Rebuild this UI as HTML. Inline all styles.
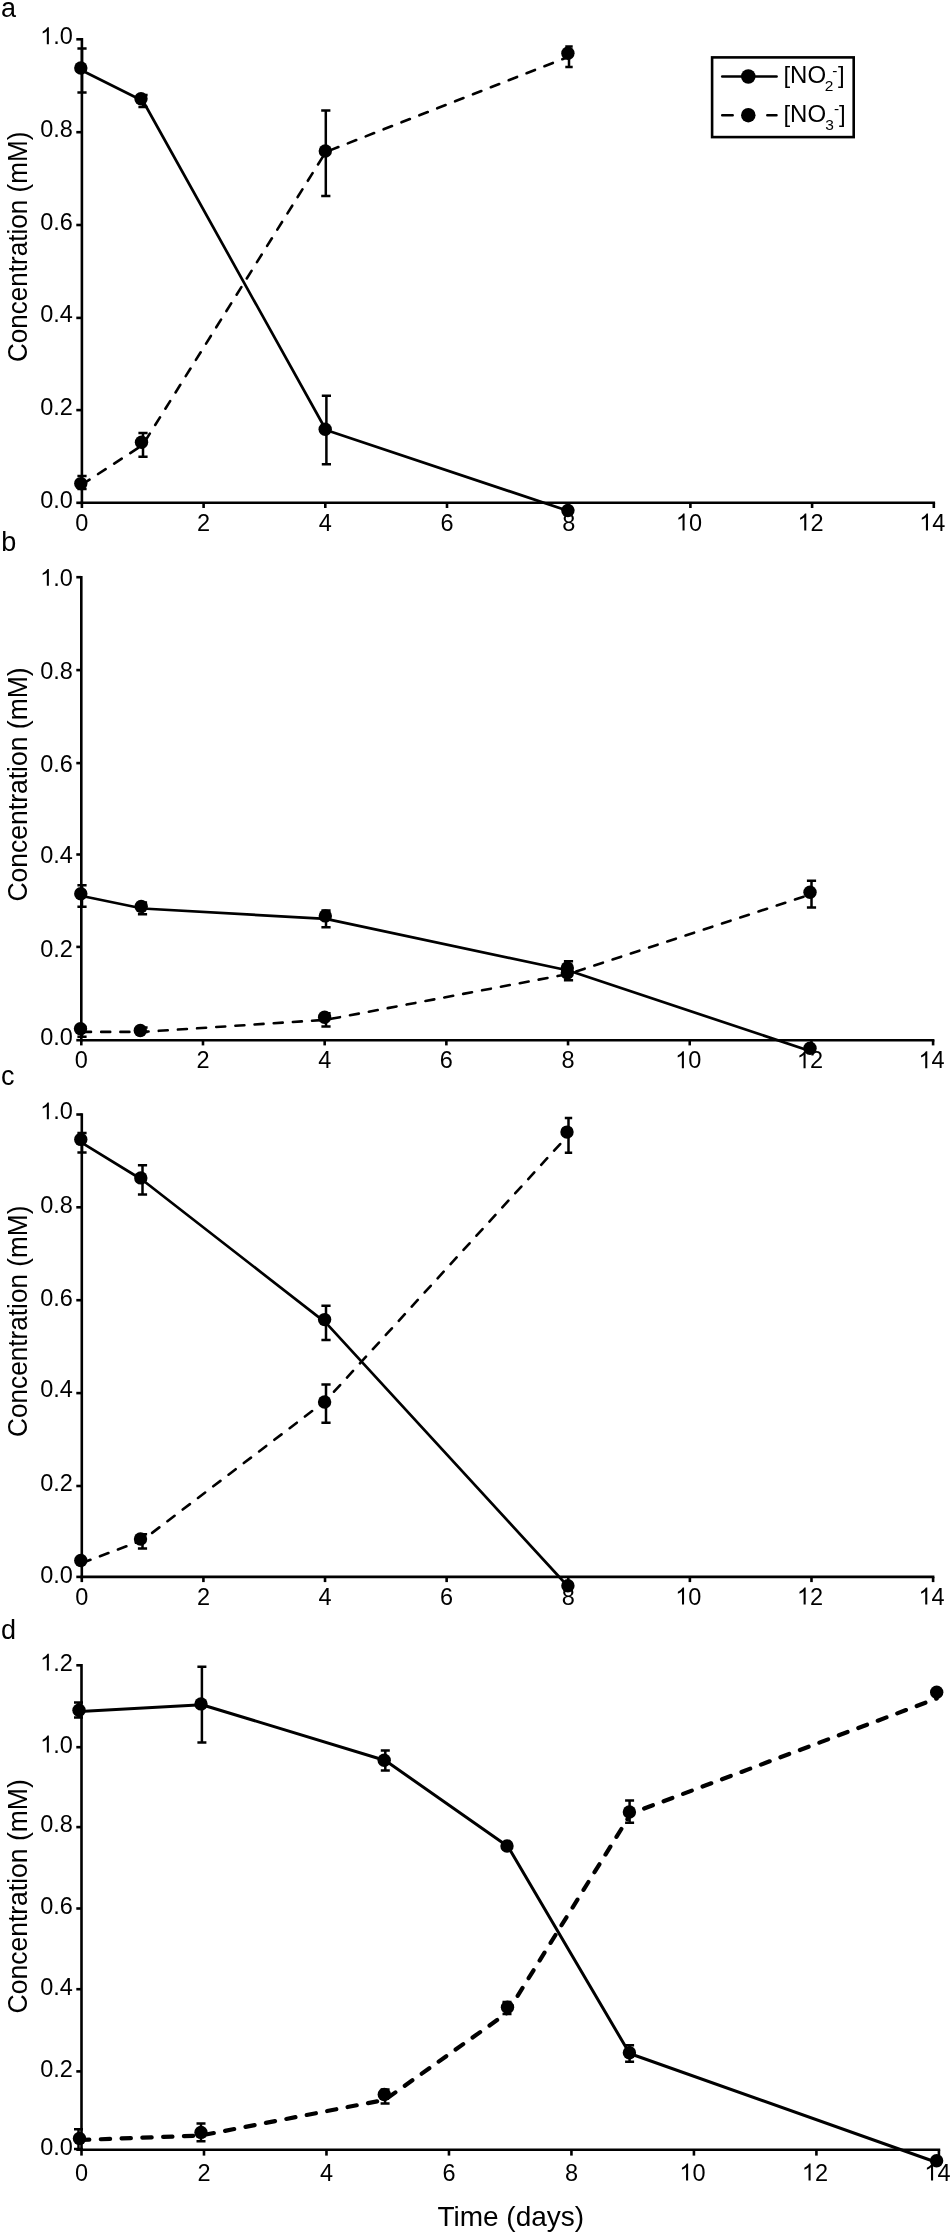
<!DOCTYPE html>
<html><head><meta charset="utf-8"><title>Nitrite and nitrate concentration over time</title>
<style>
html,body{margin:0;padding:0;background:#fff;}
svg{display:block;}
text{-webkit-font-smoothing:antialiased;}
text{font-family:"Liberation Sans", sans-serif;fill:#000;}
.t{font-size:23.5px;}
.L{font-size:27px;}
</style></head><body>
<svg style="will-change:transform" width="950" height="2235" viewBox="0 0 950 2235">
<rect width="950" height="2235" fill="#fff"/>
<path d="M81.9 38V504.1" stroke="#000" stroke-width="2.6" fill="none"/>
<path d="M80.6 502.8H935.1" stroke="#000" stroke-width="2.6" fill="none"/>
<path d="M76.3 39.3H81.9" stroke="#000" stroke-width="2.6"/>
<text x="40.13" y="44.25" font-size="23.5"> .0</text><path transform="translate(40.13 44.25) scale(0.011475 -0.011475)" d="M763 0H583V1147Q518 1085 412.5 1023Q307 961 223 930V1104Q374 1175 487 1276Q600 1377 647 1472H763Z"/>
<path d="M76.3 132.2H81.9" stroke="#000" stroke-width="2.6"/>
<text x="40.13" y="137.1" font-size="23.5">0.8</text>
<path d="M76.3 225H81.9" stroke="#000" stroke-width="2.6"/>
<text x="40.13" y="230.4" font-size="23.5">0.6</text>
<path d="M76.3 317.9H81.9" stroke="#000" stroke-width="2.6"/>
<text x="40.13" y="321.9" font-size="23.5">0.4</text>
<path d="M76.3 410.1H81.9" stroke="#000" stroke-width="2.6"/>
<text x="40.13" y="414.8" font-size="23.5">0.2</text>
<path d="M76.3 502.8H81.9" stroke="#000" stroke-width="2.6"/>
<text x="40.13" y="507.75" font-size="23.5">0.0</text>
<path d="M81.9 502.8V508" stroke="#000" stroke-width="2.6"/>
<text x="75.37" y="530.5" font-size="23.5">0</text>
<path d="M203.6 502.8V508" stroke="#000" stroke-width="2.6"/>
<text x="197.07" y="530.5" font-size="23.5">2</text>
<path d="M325.3 502.8V508" stroke="#000" stroke-width="2.6"/>
<text x="318.77" y="530.5" font-size="23.5">4</text>
<path d="M447 502.8V508" stroke="#000" stroke-width="2.6"/>
<text x="440.47" y="530.5" font-size="23.5">6</text>
<path d="M568.7 502.8V508" stroke="#000" stroke-width="2.6"/>
<text x="562.17" y="530.5" font-size="23.5">8</text>
<path d="M690.4 502.8V508" stroke="#000" stroke-width="2.6"/>
<text x="675.83" y="530.5" font-size="23.5"> 0</text><path transform="translate(675.83 530.5) scale(0.011475 -0.011475)" d="M763 0H583V1147Q518 1085 412.5 1023Q307 961 223 930V1104Q374 1175 487 1276Q600 1377 647 1472H763Z"/>
<path d="M812.1 502.8V508" stroke="#000" stroke-width="2.6"/>
<text x="797.53" y="530.5" font-size="23.5"> 2</text><path transform="translate(797.53 530.5) scale(0.011475 -0.011475)" d="M763 0H583V1147Q518 1085 412.5 1023Q307 961 223 930V1104Q374 1175 487 1276Q600 1377 647 1472H763Z"/>
<path d="M933.8 502.8V508" stroke="#000" stroke-width="2.6"/>
<text x="919.23" y="530.5" font-size="23.5"> 4</text><path transform="translate(919.23 530.5) scale(0.011475 -0.011475)" d="M763 0H583V1147Q518 1085 412.5 1023Q307 961 223 930V1104Q374 1175 487 1276Q600 1377 647 1472H763Z"/>
<path d="M82 484.5 L142.7 445 L325.8 152 L569 56.6" fill="none" stroke="#000" stroke-width="2.6" stroke-linecap="round" stroke-linejoin="round" stroke-dasharray="9.0 10.2"/>
<path d="M82 476V489M77.4 476H86.6M77.4 489H86.6" stroke="#000" stroke-width="2.5" fill="none"/>
<path d="M143 433V456.7M138.4 433H147.6M138.4 456.7H147.6" stroke="#000" stroke-width="2.5" fill="none"/>
<path d="M325.8 110.6V195.9M321.2 110.6H330.4M321.2 195.9H330.4" stroke="#000" stroke-width="2.5" fill="none"/>
<path d="M569 46.6V67M565.3 46.6H572.7M565.3 67H572.7" stroke="#000" stroke-width="2.5" fill="none"/>
<circle cx="80.8" cy="483.6" r="6.7"/>
<circle cx="141.5" cy="442.2" r="6.7"/>
<circle cx="325.3" cy="151" r="6.7"/>
<circle cx="567.9" cy="53.2" r="6.7"/>
<path d="M82 70.5 L143 101 L326 430 L568.5 511" fill="none" stroke="#000" stroke-width="2.7" stroke-linejoin="round"/>
<path d="M82 48.4V92.6M77.4 48.4H86.6M77.4 92.6H86.6" stroke="#000" stroke-width="2.5" fill="none"/>
<path d="M143 95V107M138.4 95H147.6M138.4 107H147.6" stroke="#000" stroke-width="2.5" fill="none"/>
<path d="M326.4 395.8V464.3M321.8 395.8H331M321.8 464.3H331" stroke="#000" stroke-width="2.5" fill="none"/>
<circle cx="80.8" cy="68" r="6.7"/>
<circle cx="141" cy="98.7" r="6.7"/>
<circle cx="325.2" cy="429.2" r="6.7"/>
<circle cx="567.9" cy="510.5" r="6.7"/>
<path d="M81.3 575.9V1041.5" stroke="#000" stroke-width="2.6" fill="none"/>
<path d="M80 1040.2H934.4" stroke="#000" stroke-width="2.6" fill="none"/>
<path d="M76.3 577.2H81.3" stroke="#000" stroke-width="2.6"/>
<text x="40.13" y="585.8" font-size="23.5"> .0</text><path transform="translate(40.13 585.8) scale(0.011475 -0.011475)" d="M763 0H583V1147Q518 1085 412.5 1023Q307 961 223 930V1104Q374 1175 487 1276Q600 1377 647 1472H763Z"/>
<path d="M76.3 670.1H81.3" stroke="#000" stroke-width="2.6"/>
<text x="40.13" y="678.9" font-size="23.5">0.8</text>
<path d="M76.3 763.1H81.3" stroke="#000" stroke-width="2.6"/>
<text x="40.13" y="772" font-size="23.5">0.6</text>
<path d="M76.3 854.5H81.3" stroke="#000" stroke-width="2.6"/>
<text x="40.13" y="863.3" font-size="23.5">0.4</text>
<path d="M76.3 946.9H81.3" stroke="#000" stroke-width="2.6"/>
<text x="40.13" y="956.8" font-size="23.5">0.2</text>
<path d="M76.3 1040.2H81.3" stroke="#000" stroke-width="2.6"/>
<text x="40.13" y="1045.2" font-size="23.5">0.0</text>
<path d="M81.3 1040.2V1045.4" stroke="#000" stroke-width="2.6"/>
<text x="74.77" y="1068.2" font-size="23.5">0</text>
<path d="M202.99 1040.2V1045.4" stroke="#000" stroke-width="2.6"/>
<text x="196.45" y="1068.2" font-size="23.5">2</text>
<path d="M324.67 1040.2V1045.4" stroke="#000" stroke-width="2.6"/>
<text x="318.14" y="1068.2" font-size="23.5">4</text>
<path d="M446.36 1040.2V1045.4" stroke="#000" stroke-width="2.6"/>
<text x="439.82" y="1068.2" font-size="23.5">6</text>
<path d="M568.04 1040.2V1045.4" stroke="#000" stroke-width="2.6"/>
<text x="561.51" y="1068.2" font-size="23.5">8</text>
<path d="M689.73 1040.2V1045.4" stroke="#000" stroke-width="2.6"/>
<text x="675.16" y="1068.2" font-size="23.5"> 0</text><path transform="translate(675.16 1068.2) scale(0.011475 -0.011475)" d="M763 0H583V1147Q518 1085 412.5 1023Q307 961 223 930V1104Q374 1175 487 1276Q600 1377 647 1472H763Z"/>
<path d="M811.41 1040.2V1045.4" stroke="#000" stroke-width="2.6"/>
<text x="796.84" y="1068.2" font-size="23.5"> 2</text><path transform="translate(796.84 1068.2) scale(0.011475 -0.011475)" d="M763 0H583V1147Q518 1085 412.5 1023Q307 961 223 930V1104Q374 1175 487 1276Q600 1377 647 1472H763Z"/>
<path d="M933.1 1040.2V1045.4" stroke="#000" stroke-width="2.6"/>
<text x="918.53" y="1068.2" font-size="23.5"> 4</text><path transform="translate(918.53 1068.2) scale(0.011475 -0.011475)" d="M763 0H583V1147Q518 1085 412.5 1023Q307 961 223 930V1104Q374 1175 487 1276Q600 1377 647 1472H763Z"/>
<path d="M82 1031.9 L142.5 1031.9 L326 1019.8 L568.5 974 L811.5 894.1" fill="none" stroke="#000" stroke-width="2.6" stroke-linecap="round" stroke-linejoin="round" stroke-dasharray="9.0 10.2"/>
<path d="M82 1027V1036.7M77.4 1027H86.6M77.4 1036.7H86.6" stroke="#000" stroke-width="2.5" fill="none"/>
<path d="M143 1027.5V1032M138.4 1027.5H147.6M138.4 1032H147.6" stroke="#000" stroke-width="2.5" fill="none"/>
<path d="M326 1013.2V1026.4M321.4 1013.2H330.6M321.4 1026.4H330.6" stroke="#000" stroke-width="2.5" fill="none"/>
<path d="M568.5 961.3V980.2M563.9 961.3H573.1M563.9 980.2H573.1" stroke="#000" stroke-width="2.5" fill="none"/>
<path d="M811.5 880.8V907.4M806.9 880.8H816.1M806.9 907.4H816.1" stroke="#000" stroke-width="2.5" fill="none"/>
<circle cx="80.5" cy="1028.7" r="6.7"/>
<circle cx="140.3" cy="1030.5" r="6.7"/>
<circle cx="324.6" cy="1017.3" r="6.7"/>
<circle cx="567.3" cy="973" r="6.7"/>
<circle cx="810" cy="892.2" r="6.7"/>
<path d="M82 896 L142.5 908.5 L326 918.9 L568.5 970.5 L811.5 1051.5" fill="none" stroke="#000" stroke-width="2.7" stroke-linejoin="round"/>
<path d="M82 885.3V906.7M77.4 885.3H86.6M77.4 906.7H86.6" stroke="#000" stroke-width="2.5" fill="none"/>
<path d="M142.5 902.6V914.3M137.9 902.6H147.1M137.9 914.3H147.1" stroke="#000" stroke-width="2.5" fill="none"/>
<path d="M326 910.5V927.3M321.4 910.5H330.6M321.4 927.3H330.6" stroke="#000" stroke-width="2.5" fill="none"/>
<circle cx="80.8" cy="893.8" r="6.7"/>
<circle cx="141.2" cy="906.4" r="6.7"/>
<circle cx="325.3" cy="915.9" r="6.7"/>
<circle cx="567.3" cy="968" r="6.7"/>
<circle cx="810" cy="1048.3" r="6.7"/>
<path d="M81.8 1113.2V1578.2" stroke="#000" stroke-width="2.6" fill="none"/>
<path d="M80.5 1576.9H934.4" stroke="#000" stroke-width="2.6" fill="none"/>
<path d="M76.3 1114.5H81.8" stroke="#000" stroke-width="2.6"/>
<text x="40.13" y="1119.3" font-size="23.5"> .0</text><path transform="translate(40.13 1119.3) scale(0.011475 -0.011475)" d="M763 0H583V1147Q518 1085 412.5 1023Q307 961 223 930V1104Q374 1175 487 1276Q600 1377 647 1472H763Z"/>
<path d="M76.3 1207.3H81.8" stroke="#000" stroke-width="2.6"/>
<text x="40.13" y="1212.5" font-size="23.5">0.8</text>
<path d="M76.3 1300.2H81.8" stroke="#000" stroke-width="2.6"/>
<text x="40.13" y="1305.8" font-size="23.5">0.6</text>
<path d="M76.3 1393.1H81.8" stroke="#000" stroke-width="2.6"/>
<text x="40.13" y="1397" font-size="23.5">0.4</text>
<path d="M76.3 1486H81.8" stroke="#000" stroke-width="2.6"/>
<text x="40.13" y="1490.6" font-size="23.5">0.2</text>
<path d="M76.3 1576.9H81.8" stroke="#000" stroke-width="2.6"/>
<text x="40.13" y="1582.6" font-size="23.5">0.0</text>
<path d="M81.8 1576.9V1582.1" stroke="#000" stroke-width="2.6"/>
<text x="75.27" y="1604.5" font-size="23.5">0</text>
<path d="M203.41 1576.9V1582.1" stroke="#000" stroke-width="2.6"/>
<text x="196.88" y="1604.5" font-size="23.5">2</text>
<path d="M325.03 1576.9V1582.1" stroke="#000" stroke-width="2.6"/>
<text x="318.49" y="1604.5" font-size="23.5">4</text>
<path d="M446.64 1576.9V1582.1" stroke="#000" stroke-width="2.6"/>
<text x="440.11" y="1604.5" font-size="23.5">6</text>
<path d="M568.26 1576.9V1582.1" stroke="#000" stroke-width="2.6"/>
<text x="561.72" y="1604.5" font-size="23.5">8</text>
<path d="M689.87 1576.9V1582.1" stroke="#000" stroke-width="2.6"/>
<text x="675.3" y="1604.5" font-size="23.5"> 0</text><path transform="translate(675.3 1604.5) scale(0.011475 -0.011475)" d="M763 0H583V1147Q518 1085 412.5 1023Q307 961 223 930V1104Q374 1175 487 1276Q600 1377 647 1472H763Z"/>
<path d="M811.49 1576.9V1582.1" stroke="#000" stroke-width="2.6"/>
<text x="796.92" y="1604.5" font-size="23.5"> 2</text><path transform="translate(796.92 1604.5) scale(0.011475 -0.011475)" d="M763 0H583V1147Q518 1085 412.5 1023Q307 961 223 930V1104Q374 1175 487 1276Q600 1377 647 1472H763Z"/>
<path d="M933.1 1576.9V1582.1" stroke="#000" stroke-width="2.6"/>
<text x="918.53" y="1604.5" font-size="23.5"> 4</text><path transform="translate(918.53 1604.5) scale(0.011475 -0.011475)" d="M763 0H583V1147Q518 1085 412.5 1023Q307 961 223 930V1104Q374 1175 487 1276Q600 1377 647 1472H763Z"/>
<path d="M82 1563 L142.5 1540.2 L326 1400.5 L568.5 1134.9" fill="none" stroke="#000" stroke-width="2.6" stroke-linecap="round" stroke-linejoin="round" stroke-dasharray="9.0 10.2"/>
<path d="M142.5 1534.3V1548.5M137.9 1534.3H147.1M137.9 1548.5H147.1" stroke="#000" stroke-width="2.5" fill="none"/>
<path d="M326 1384.4V1422.7M321.4 1384.4H330.6M321.4 1422.7H330.6" stroke="#000" stroke-width="2.5" fill="none"/>
<path d="M568.5 1118.1V1152.7M564.8 1118.1H572.2M564.8 1152.7H572.2" stroke="#000" stroke-width="2.5" fill="none"/>
<circle cx="80.8" cy="1560.5" r="6.7"/>
<circle cx="140.5" cy="1539" r="6.7"/>
<circle cx="324.6" cy="1402" r="6.7"/>
<circle cx="567" cy="1132.1" r="6.7"/>
<path d="M82 1142.8 L142.5 1180 L326 1322.9 L568.5 1587" fill="none" stroke="#000" stroke-width="2.7" stroke-linejoin="round"/>
<path d="M82 1133V1152.6M77.4 1133H86.6M77.4 1152.6H86.6" stroke="#000" stroke-width="2.5" fill="none"/>
<path d="M142.5 1165.3V1194.6M137.9 1165.3H147.1M137.9 1194.6H147.1" stroke="#000" stroke-width="2.5" fill="none"/>
<path d="M326 1305.7V1340.1M321.4 1305.7H330.6M321.4 1340.1H330.6" stroke="#000" stroke-width="2.5" fill="none"/>
<circle cx="80.8" cy="1139.4" r="6.7"/>
<circle cx="140.8" cy="1177.9" r="6.7"/>
<circle cx="324.6" cy="1319.6" r="6.7"/>
<circle cx="567.9" cy="1585.8" r="6.7"/>
<path d="M81.5 1664V2151" stroke="#000" stroke-width="2.6" fill="none"/>
<path d="M80.2 2149.7H940.2" stroke="#000" stroke-width="2.6" fill="none"/>
<path d="M76.3 1665.3H81.5" stroke="#000" stroke-width="2.6"/>
<text x="40.13" y="1670.6" font-size="23.5"> .2</text><path transform="translate(40.13 1670.6) scale(0.011475 -0.011475)" d="M763 0H583V1147Q518 1085 412.5 1023Q307 961 223 930V1104Q374 1175 487 1276Q600 1377 647 1472H763Z"/>
<path d="M76.3 1747.2H81.5" stroke="#000" stroke-width="2.6"/>
<text x="40.13" y="1752.5" font-size="23.5"> .0</text><path transform="translate(40.13 1752.5) scale(0.011475 -0.011475)" d="M763 0H583V1147Q518 1085 412.5 1023Q307 961 223 930V1104Q374 1175 487 1276Q600 1377 647 1472H763Z"/>
<path d="M76.3 1827.1H81.5" stroke="#000" stroke-width="2.6"/>
<text x="40.13" y="1832.3" font-size="23.5">0.8</text>
<path d="M76.3 1908.5H81.5" stroke="#000" stroke-width="2.6"/>
<text x="40.13" y="1913.8" font-size="23.5">0.6</text>
<path d="M76.3 1989.2H81.5" stroke="#000" stroke-width="2.6"/>
<text x="40.13" y="1995.2" font-size="23.5">0.4</text>
<path d="M76.3 2071.4H81.5" stroke="#000" stroke-width="2.6"/>
<text x="40.13" y="2077.4" font-size="23.5">0.2</text>
<path d="M76.3 2149.7H81.5" stroke="#000" stroke-width="2.6"/>
<text x="40.13" y="2155.3" font-size="23.5">0.0</text>
<path d="M81.5 2149.7V2155.6" stroke="#000" stroke-width="2.6"/>
<text x="74.97" y="2180.5" font-size="23.5">0</text>
<path d="M203.99 2149.7V2155.6" stroke="#000" stroke-width="2.6"/>
<text x="197.45" y="2180.5" font-size="23.5">2</text>
<path d="M326.47 2149.7V2155.6" stroke="#000" stroke-width="2.6"/>
<text x="319.94" y="2180.5" font-size="23.5">4</text>
<path d="M448.96 2149.7V2155.6" stroke="#000" stroke-width="2.6"/>
<text x="442.42" y="2180.5" font-size="23.5">6</text>
<path d="M571.44 2149.7V2155.6" stroke="#000" stroke-width="2.6"/>
<text x="564.91" y="2180.5" font-size="23.5">8</text>
<path d="M693.93 2149.7V2155.6" stroke="#000" stroke-width="2.6"/>
<text x="679.36" y="2180.5" font-size="23.5"> 0</text><path transform="translate(679.36 2180.5) scale(0.011475 -0.011475)" d="M763 0H583V1147Q518 1085 412.5 1023Q307 961 223 930V1104Q374 1175 487 1276Q600 1377 647 1472H763Z"/>
<path d="M816.41 2149.7V2155.6" stroke="#000" stroke-width="2.6"/>
<text x="801.84" y="2180.5" font-size="23.5"> 2</text><path transform="translate(801.84 2180.5) scale(0.011475 -0.011475)" d="M763 0H583V1147Q518 1085 412.5 1023Q307 961 223 930V1104Q374 1175 487 1276Q600 1377 647 1472H763Z"/>
<path d="M938.9 2149.7V2155.6" stroke="#000" stroke-width="2.6"/>
<text x="924.33" y="2180.5" font-size="23.5"> 4</text><path transform="translate(924.33 2180.5) scale(0.011475 -0.011475)" d="M763 0H583V1147Q518 1085 412.5 1023Q307 961 223 930V1104Q374 1175 487 1276Q600 1377 647 1472H763Z"/>
<path d="M80 2140 L201 2135.5 L385 2099.8 L507 2013 L631 1813.5 L936.7 1698.5" fill="none" stroke="#000" stroke-width="4.2" stroke-linecap="round" stroke-linejoin="round" stroke-dasharray="9.3 11.5"/>
<path d="M78.5 2129.3V2149M74 2129.3H83M74 2149H83" stroke="#000" stroke-width="2.5" fill="none"/>
<path d="M201 2123.4V2141.3M196.5 2123.4H205.5M196.5 2141.3H205.5" stroke="#000" stroke-width="2.5" fill="none"/>
<path d="M385.1 2089.6V2103.4M380.6 2089.6H389.6M380.6 2103.4H389.6" stroke="#000" stroke-width="2.5" fill="none"/>
<path d="M507 2002V2014.1M502.5 2002H511.5M502.5 2014.1H511.5" stroke="#000" stroke-width="2.5" fill="none"/>
<path d="M629.6 1800.5V1822.7M625.1 1800.5H634.1M625.1 1822.7H634.1" stroke="#000" stroke-width="2.5" fill="none"/>
<circle cx="79.5" cy="2138.4" r="6.7"/>
<circle cx="201" cy="2132.4" r="6.7"/>
<circle cx="384.3" cy="2094.5" r="6.7"/>
<circle cx="507.5" cy="2007.2" r="6.7"/>
<circle cx="629.4" cy="1811.9" r="6.7"/>
<circle cx="936.7" cy="1692.3" r="6.7"/>
<path d="M80 1711.6 L201.9 1704.7 L385.3 1760.5 L508 1846.5 L629.6 2053.5 L937 2162.5" fill="none" stroke="#000" stroke-width="3.0" stroke-linejoin="round"/>
<path d="M78.5 1702.6V1717.4M74 1702.6H83M74 1717.4H83" stroke="#000" stroke-width="2.5" fill="none"/>
<path d="M201.9 1666.8V1742.6M197.4 1666.8H206.4M197.4 1742.6H206.4" stroke="#000" stroke-width="2.5" fill="none"/>
<path d="M385.3 1750.6V1770.5M380.8 1750.6H389.8M380.8 1770.5H389.8" stroke="#000" stroke-width="2.5" fill="none"/>
<path d="M629.6 2045.3V2061.7M625.1 2045.3H634.1M625.1 2061.7H634.1" stroke="#000" stroke-width="2.5" fill="none"/>
<circle cx="79" cy="1710.2" r="6.7"/>
<circle cx="201" cy="1703.9" r="6.7"/>
<circle cx="384.2" cy="1760.3" r="6.7"/>
<circle cx="507" cy="1846" r="6.7"/>
<circle cx="629.4" cy="2052.7" r="6.7"/>
<circle cx="936.6" cy="2160.7" r="6.7"/>
<text transform="translate(26.7 362) rotate(-90)" x="0" y="0" font-size="27" textLength="230.4" lengthAdjust="spacingAndGlyphs">Concentration (mM)</text>
<text transform="translate(26.7 901.6) rotate(-90)" x="0" y="0" font-size="27" textLength="234.3" lengthAdjust="spacingAndGlyphs">Concentration (mM)</text>
<text transform="translate(26.7 1437) rotate(-90)" x="0" y="0" font-size="27" textLength="231.4" lengthAdjust="spacingAndGlyphs">Concentration (mM)</text>
<text transform="translate(26.7 2013.5) rotate(-90)" x="0" y="0" font-size="27" textLength="234.3" lengthAdjust="spacingAndGlyphs">Concentration (mM)</text>
<text x="1" y="17" class="L">a</text>
<text x="1.25" y="550.6" class="L">b</text>
<text x="1" y="1085" class="L">c</text>
<text x="1" y="1638.6" class="L">d</text>
<text x="437.4" y="2226.3" font-size="28">Time (days)</text>
<rect x="712.1" y="57.4" width="141.6" height="79.7" fill="#fff" stroke="#000" stroke-width="2.6"/>
<path d="M722.2 76.5H776.6" stroke="#000" stroke-width="2.5" stroke-linecap="round"/>
<circle cx="748.3" cy="76.5" r="7.25"/>
<path d="M722.2 115.2H732.7M767.3 115.2H776.5" stroke="#000" stroke-width="2.5" stroke-linecap="round"/>
<circle cx="748.3" cy="115.2" r="7.25"/>
<text x="783.45" y="82.8" font-size="24">[NO</text>
<text x="824.75" y="91" font-size="15.5">2</text>
<text x="832.25" y="75.5" font-size="15.5">-</text>
<text x="837.9" y="82.8" font-size="24">]</text>
<text x="783.45" y="121.5" font-size="24">[NO</text>
<text x="825.3" y="129.7" font-size="15.5">3</text>
<text x="834" y="114.2" font-size="15.5">-</text>
<text x="838.9" y="121.5" font-size="24">]</text>
</svg>
</body></html>
